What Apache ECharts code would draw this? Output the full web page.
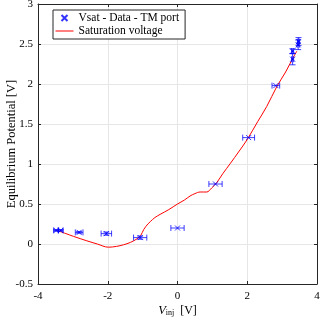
<!DOCTYPE html>
<html>
<head>
<meta charset="utf-8">
<script src="https://cdn.jsdelivr.net/npm/echarts@6/dist/echarts.min.js"></script>
<style>
  html, body { margin: 0; padding: 0; background: #fff; }
  #chart { width: 320px; height: 324px; }
</style>
</head>
<body>
<div id="chart"></div>
<script>
// measured points (Vinj, Vsat) with error bars
var ptsX = [-3.48, -3.35, -2.82, -2.04, -1.07, 0.00, 1.09, 2.04, 2.82, 3.30, 3.30, 3.46, 3.47];
var ptsY = [0.17, 0.17, 0.145, 0.13, 0.08, 0.20, 0.75, 1.33, 1.98, 2.31, 2.41, 2.49, 2.53];
var errX = [0.07, 0.07, 0.11, 0.15, 0.19, 0.19, 0.19, 0.17, 0.11, 0.03, 0.03, 0.03, 0.03];
var errY = [0.01, 0.01, 0.01, 0.02, 0.02, 0, 0, 0, 0, 0.07, 0.03, 0.06, 0.05];

// saturation voltage curve
var curveX = [-3.46, -3.2, -2.98, -2.6, -2.3, -1.98, -1.75, -1.55, -1.35, -1.16, -1.05, -0.97, -0.85, -0.78, -0.65, -0.5, -0.25, 0.0, 0.2, 0.36, 0.5, 0.65, 0.75, 0.84, 0.98, 1.13, 1.3, 1.52, 1.75, 1.99, 2.3, 2.56, 2.85, 3.1, 3.28, 3.42];
var curveY = [0.17, 0.13, 0.095, 0.04, 0.0, -0.04, -0.03, -0.01, 0.02, 0.065, 0.11, 0.18, 0.25, 0.28, 0.33, 0.37, 0.43, 0.50, 0.55, 0.60, 0.63, 0.65, 0.65, 0.65, 0.70, 0.77, 0.88, 1.01, 1.15, 1.30, 1.53, 1.72, 1.97, 2.15, 2.30, 2.41];

var FONT = 'Liberation Serif';
var AX = '#262626';
var crossPath = 'path://M0,0L10,10M10,0L0,10';

var pts = ptsX.map(function (x, i) { return [x, ptsY[i]]; });
var errData = ptsX.map(function (x, i) { return [x, ptsY[i], errX[i], errY[i]]; });
var curve = curveX.map(function (x, i) { return [x, curveY[i]]; });

function renderErr(params, api) {
  var x = api.value(0), y = api.value(1), ex = api.value(2), ey = api.value(3);
  var l = api.coord([x - ex, y]), r = api.coord([x + ex, y]);
  var cap = 3;
  var kids = [];
  var st = { stroke: '#0000ff', lineWidth: 1, opacity: 0.75 };
  kids.push({ type: 'line', shape: { x1: l[0], y1: l[1], x2: r[0], y2: r[1] }, style: st });
  kids.push({ type: 'line', shape: { x1: l[0], y1: l[1] - cap, x2: l[0], y2: l[1] + cap }, style: st });
  kids.push({ type: 'line', shape: { x1: r[0], y1: r[1] - cap, x2: r[0], y2: r[1] + cap }, style: st });
  if (ey > 0) {
    var b = api.coord([x, y - ey]), t = api.coord([x, y + ey]);
    kids.push({ type: 'line', shape: { x1: b[0], y1: b[1], x2: t[0], y2: t[1] }, style: st });
    kids.push({ type: 'line', shape: { x1: b[0] - cap, y1: b[1], x2: b[0] + cap, y2: b[1] }, style: st });
    kids.push({ type: 'line', shape: { x1: t[0] - cap, y1: t[1], x2: t[0] + cap, y2: t[1] }, style: st });
  }
  return { type: 'group', children: kids };
}

var chart = echarts.init(document.getElementById('chart'));

var baseX = {
  type: 'value', min: -4, max: 4, interval: 2,
  axisLine: { show: true, onZero: false, lineStyle: { color: AX, width: 1 } },
  axisTick: { show: true, inside: true, length: 3, lineStyle: { color: AX } },
  splitLine: { show: false }
};
var baseY = {
  type: 'value', min: -0.5, max: 3, interval: 0.5,
  axisLine: { show: true, onZero: false, lineStyle: { color: AX, width: 1 } },
  axisTick: { show: true, inside: true, length: 3, lineStyle: { color: AX } },
  splitLine: { show: false }
};

var option = {
  animation: false,
  backgroundColor: '#fff',
  grid: { left: 38, right: 3, top: 4, bottom: 40, containLabel: false, outerBoundsMode: 'none' },
  legend: {
    left: 53, top: 10,
    orient: 'vertical',
    backgroundColor: '#fff',
    borderColor: AX, borderWidth: 1, borderRadius: 0,
    padding: [2, 6, 2, 2],
    itemGap: 1,
    itemWidth: 18, itemHeight: 6,
    textStyle: { fontFamily: FONT, fontSize: 11.5, color: '#000' },
    data: [
      { name: 'Vsat - Data - TM port', icon: crossPath },
      { name: 'Saturation voltage', itemStyle: { opacity: 0 }, lineStyle: { width: 1 } }
    ]
  },
  xAxis: [
    Object.assign({}, baseX, {
      position: 'bottom',
      name: '{i|V}{s|inj}  [V]',
      nameLocation: 'middle', nameGap: 20, nameMoveOverlap: false,
      nameTextStyle: {
        fontFamily: FONT, fontSize: 12, color: '#000',
        rich: {
          i: { fontFamily: FONT, fontSize: 12.5, fontStyle: 'italic', color: '#000' },
          s: { fontFamily: FONT, fontSize: 8, color: '#000', padding: [5, 0, 0, 0] }
        }
      },
      splitLine: { show: true, lineStyle: { color: '#e6e6e6', width: 1 } },
      axisLabel: { margin: 7, fontFamily: FONT, fontSize: 11, color: '#000' }
    }),
    Object.assign({}, baseX, { position: 'top', axisLabel: { show: false } })
  ],
  yAxis: [
    Object.assign({}, baseY, {
      position: 'left',
      name: 'Equilibrium Potential [V]',
      nameLocation: 'middle', nameGap: 20, nameMoveOverlap: false,
      nameTextStyle: { fontFamily: FONT, fontSize: 12.5, color: '#000' },
      splitLine: { show: true, lineStyle: { color: '#e6e6e6', width: 1 } },
      axisLabel: { margin: 5, fontFamily: FONT, fontSize: 11, color: '#000' }
    }),
    Object.assign({}, baseY, { position: 'right', axisLabel: { show: false } })
  ],
  series: [
    {
      name: 'Saturation voltage',
      type: 'line',
      data: curve,
      smooth: 0.35,
      showSymbol: false,
      symbol: 'none',
      lineStyle: { color: '#ff0000', width: 1 },
      itemStyle: { color: '#ff0000' },
      z: 2
    },
    {
      name: 'errbars',
      type: 'custom',
      data: errData,
      renderItem: renderErr,
      z: 3
    },
    {
      name: 'Vsat - Data - TM port',
      type: 'scatter',
      data: pts,
      symbol: crossPath,
      symbolSize: 5,
      itemStyle: { color: 'none', borderColor: '#0000ff', borderWidth: 1 },
      z: 4
    }
  ]
};

chart.setOption(option);
</script>
</body>
</html>
